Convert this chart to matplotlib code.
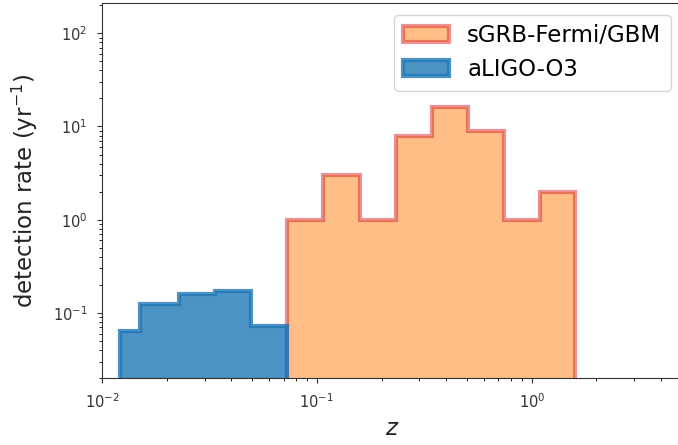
import matplotlib

matplotlib.use("Agg")
import matplotlib.pyplot as plt
import numpy as np


# bin edges (redshift) and rates
grb_edges = [0.0727, 0.1066, 0.158, 0.234, 0.343, 0.504, 0.746, 1.094, 1.597]
grb_rates = [1.0, 3.0, 1.0, 8.0, 16.0, 9.0, 1.0, 2.0]

ligo_edges = [0.01218, 0.01497, 0.0228, 0.0334, 0.0496, 0.0723]
ligo_rates = [0.0636, 0.124, 0.159, 0.172, 0.072]


def main():
    fig = plt.figure(figsize=(6.78, 4.45), dpi=100)
    ax = fig.add_axes([0.1504, 0.1506, 0.8555, 0.842])

    ax.hist(grb_edges[:-1], bins=grb_edges, weights=grb_rates,
            histtype="stepfilled", color="C1", edgecolor="C3",
            alpha=0.5, linewidth=3, label="sGRB-Fermi/GBM")
    ax.hist(ligo_edges[:-1], bins=ligo_edges, weights=ligo_rates,
            histtype="stepfilled", color="C0", edgecolor="C0",
            alpha=0.8, linewidth=3, label="aLIGO-O3")

    ax.set_xscale("log")
    ax.set_yscale("log")
    ax.set_xlim(0.01, 5)
    ax.set_ylim(0.02, 210)
    ax.tick_params(labelsize=10.5, pad=7, colors="#333333")
    for spine in ax.spines.values():
        spine.set_color("#333333")
    ax.set_xlabel("$z$", fontsize=16.5, color="#222222")
    ax.set_ylabel("detection rate (yr$^{-1}$)", fontsize=16.5,
                  labelpad=9, color="#222222")
    ax.legend(loc="upper right", fontsize=16.5)

    fig.savefig("out.png", dpi=100)
    plt.close(fig)


if __name__ == "__main__":
    main()
